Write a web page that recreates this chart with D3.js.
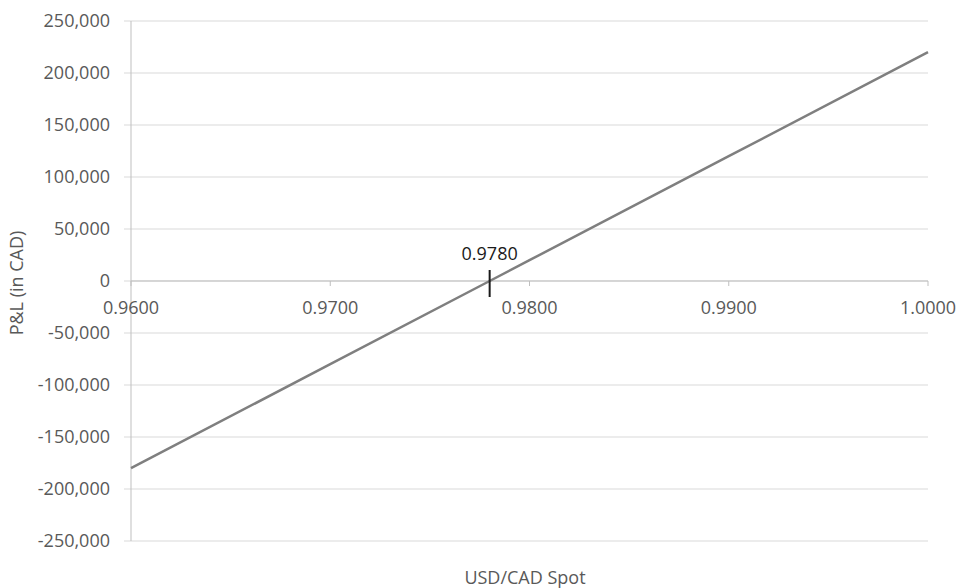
<!DOCTYPE html>
<html>
<head>
<meta charset="utf-8">
<script src="https://cdn.jsdelivr.net/npm/d3@7"></script>
<style>
  body { margin: 0; background: #fff; }
  text { font-family: "Open Sans", sans-serif; }
</style>
</head>
<body>
<div class="chart"></div>
<script>
// data
var spots = [0.96, 0.97, 0.978, 0.98, 0.99, 1.00];
var pnl = [-180000, -80000, 0, 20000, 120000, 220000];
var yTicks = [250000, 200000, 150000, 100000, 50000, 0, -50000, -100000, -150000, -200000, -250000];
var xTicks = [0.96, 0.97, 0.98, 0.99, 1.00];
var breakEven = 0.978;

var width = 959, height = 588;
var plotLeft = 131, plotRight = 928, plotTop = 21, plotBottom = 541;

var svg = d3.select('.chart')
            .append('svg')
            .attr('width', width)
            .attr('height', height);

var x = d3.scaleLinear().domain([0.96, 1.0]).range([plotLeft, plotRight]);
var y = d3.scaleLinear().domain([-250000, 250000]).range([plotBottom, plotTop]);
var fmtY = function(d) { return d3.format(',')(d).replace('\u2212', '-'); };
var fmtX = d3.format('.4f');

// gridlines
svg.selectAll('.grid')
   .data(yTicks)
   .enter()
   .append('line')
   .attr('x1', plotLeft - 7)
   .attr('x2', plotRight)
   .attr('y1', function(d) { return y(d); })
   .attr('y2', function(d) { return y(d); })
   .style('stroke', '#d9d9d9')
   .style('stroke-width', 1);

// vertical axis line
svg.append('line')
   .attr('x1', plotLeft).attr('x2', plotLeft)
   .attr('y1', plotTop).attr('y2', plotBottom)
   .style('stroke', '#bfbfbf')
   .style('stroke-width', 1);

// horizontal axis on zero
svg.append('line')
   .attr('x1', plotLeft).attr('x2', plotRight)
   .attr('y1', y(0)).attr('y2', y(0))
   .style('stroke', '#bfbfbf')
   .style('stroke-width', 1);

svg.selectAll('.xtick')
   .data(xTicks)
   .enter()
   .append('line')
   .attr('x1', function(d) { return x(d); })
   .attr('x2', function(d) { return x(d); })
   .attr('y1', y(0))
   .attr('y2', y(0) + 5)
   .style('stroke', '#bfbfbf')
   .style('stroke-width', 1);

// y labels
svg.selectAll('.ylab')
   .data(yTicks)
   .enter()
   .append('text')
   .attr('x', 110)
   .attr('y', function(d) { return y(d) + 6; })
   .attr('text-anchor', 'end')
   .style('font-size', '18px')
   .style('fill', '#595959')
   .text(function(d) { return fmtY(d); });

// x labels
svg.selectAll('.xlab')
   .data(xTicks)
   .enter()
   .append('text')
   .attr('x', function(d) { return x(d); })
   .attr('y', y(0) + 33)
   .attr('text-anchor', 'middle')
   .style('font-size', '18px')
   .style('fill', '#595959')
   .text(function(d) { return fmtX(d); });

// P&L line
var line = d3.line()
             .x(function(d, i) { return x(spots[i]); })
             .y(function(d) { return y(d); });

svg.append('path')
   .datum(pnl)
   .attr('d', line)
   .style('fill', 'none')
   .style('stroke', '#7f7f7f')
   .style('stroke-width', 2.5);

// break-even marker
svg.append('line')
   .attr('x1', x(breakEven)).attr('x2', x(breakEven))
   .attr('y1', y(0) - 11).attr('y2', y(0) + 16)
   .style('stroke', '#1a1a1a')
   .style('stroke-width', 2);

svg.append('text')
   .attr('x', x(breakEven))
   .attr('y', y(0) - 21)
   .attr('text-anchor', 'middle')
   .style('font-size', '18px')
   .style('fill', '#1a1a1a')
   .text(fmtX(breakEven));

// axis titles
svg.append('text')
   .attr('transform', 'translate(23,283) rotate(-90)')
   .attr('text-anchor', 'middle')
   .style('font-size', '18px')
   .style('fill', '#595959')
   .text('P&L (in CAD)');

svg.append('text')
   .attr('x', 525)
   .attr('y', 584)
   .attr('text-anchor', 'middle')
   .style('font-size', '18px')
   .style('fill', '#595959')
   .text('USD/CAD Spot');
</script>
</body>
</html>
